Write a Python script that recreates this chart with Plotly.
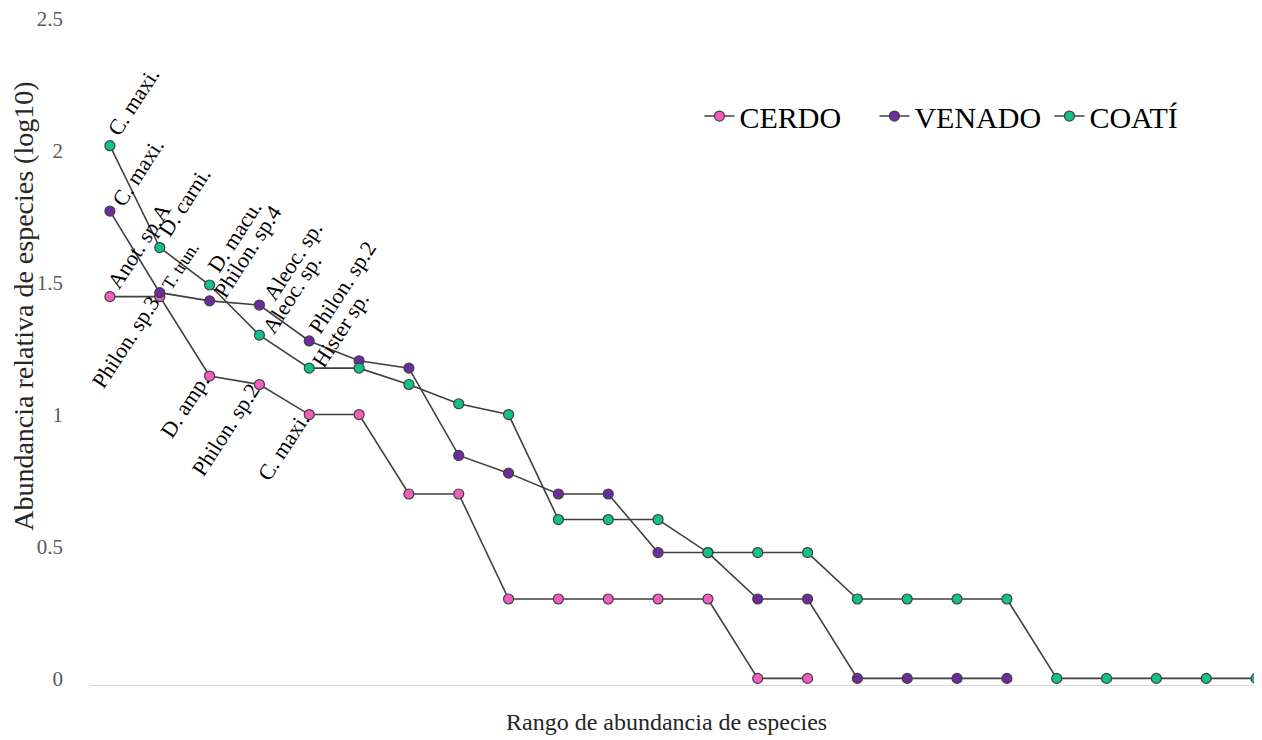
import plotly.graph_objects as go

# ---- data (log10 relative abundance by rank) ----
series_names = ["CERDO", "VENADO", "COATÍ"]
cerdo = [1.447, 1.447, 1.146, 1.114, 1.0, 1.0, 0.699, 0.699, 0.301, 0.301,
         0.301, 0.301, 0.301, 0.0, 0.0]
venado = [1.771, 1.462, 1.431, 1.415, 1.279, 1.204, 1.176, 0.845, 0.778, 0.699,
          0.699, 0.477, 0.477, 0.301, 0.301, 0.0, 0.0, 0.0, 0.0]
coati = [2.019, 1.633, 1.491, 1.301, 1.176, 1.176, 1.114, 1.041, 1.0, 0.602,
         0.602, 0.602, 0.477, 0.477, 0.477, 0.301, 0.301, 0.301, 0.301, 0.0,
         0.0, 0.0, 0.0, 0.0]

# species labels (rank index starting at 1)
coati_labels = ["C. maxi.", "D. carni.", "D. macu.", "Aleoc. sp.", "Hister sp."]
venado_labels = ["C. maxi.", "T. trun.", "Philon. sp.4", "Aleoc. sp.", "Philon. sp.2"]
cerdo_label_up = ["Anot. sp.A"]
cerdo_labels_down = ["Philon. sp.3", "D. amp.", "Philon. sp.2", "C. maxi."]

y_ticks = [0, 0.5, 1, 1.5, 2, 2.5]
y_ticktext = ["0", "0.5", "1", "1.5", "2", "2.5"]

# ---- style ----
colors = ["#F25DBE", "#6B2D9E", "#12C28C"]
FONT = "Liberation Serif, Times New Roman, serif"
coati_label_shift = [(-10, 3), (-10, 4), (-10, 5), (-5, -5), (-5, -6)]
venado_label_shift = [(-6, -2), (-5, -3), (-4, -4), (-4, -2), (-9, 0)]

fig = go.Figure()
for name, vals, col in zip(series_names, [cerdo, venado, coati], colors):
    fig.add_trace(go.Scatter(
        x=list(range(1, len(vals) + 1)), y=vals, name=name,
        mode="lines+markers",
        line=dict(color="#404040", width=1.6),
        marker=dict(color=col, size=10, line=dict(color="#404040", width=1.2)),
    ))

ANG = -57
annotations = []

def up_label(xi, yv, text, size=22, dx=-9, dy=-1):
    annotations.append(dict(x=xi, y=yv, xref="x", yref="y", text=text,
                            textangle=ANG, showarrow=False, xanchor="left",
                            yanchor="bottom", xshift=dx, yshift=dy,
                            font=dict(family=FONT, size=size, color="#000000")))

def down_label(xi, yv, text, size=22):
    annotations.append(dict(x=xi, y=yv, xref="x", yref="y", text=text,
                            textangle=ANG, showarrow=False, xanchor="right",
                            yanchor="top", xshift=8, yshift=9,
                            font=dict(family=FONT, size=size, color="#000000")))

for i, t in enumerate(coati_labels):
    dx, dy = coati_label_shift[i]
    up_label(i + 1, coati[i], t, dx=dx, dy=dy)
for i, t in enumerate(venado_labels):
    dx, dy = venado_label_shift[i]
    up_label(i + 1, venado[i], t, size=18 if t == "T. trun." else 22, dx=dx, dy=dy)
up_label(1, cerdo[0], cerdo_label_up[0], dx=-10, dy=1)
for i, t in enumerate(cerdo_labels_down):
    down_label(i + 2, cerdo[i + 1], t)

# axis titles
annotations.append(dict(x=0.4923, y=-0.056, xref="paper", yref="paper",
                        text="Rango de abundancia de especies", showarrow=False,
                        xanchor="center", yanchor="middle",
                        font=dict(family=FONT, size=24, color="#262626")))
annotations.append(dict(x=-0.0563, y=0.567, xref="paper", yref="paper",
                        text="Abundancia relativa de especies (log10)",
                        textangle=-90, showarrow=False,
                        xanchor="center", yanchor="middle",
                        font=dict(family=FONT, size=28, color="#262626")))

fig.update_layout(
    width=1254, height=732,
    margin=dict(l=82, r=0, t=10, b=55),
    paper_bgcolor="white", plot_bgcolor="white",
    font=dict(family=FONT, color="#000000"),
    showlegend=True,
    legend=dict(orientation="h", x=0.52, xanchor="left", y=0.853, yanchor="middle",
                font=dict(family=FONT, size=30, color="#000000"),
                bgcolor="rgba(0,0,0,0)", entrywidth=130, entrywidthmode="pixels",
                tracegroupgap=0),
    xaxis=dict(range=[0.6, 24.12], showgrid=False, zeroline=False,
               showticklabels=False, ticks="", showline=True, automargin=False,
               linecolor="#D9D9D9", linewidth=1.2),
    yaxis=dict(range=[-0.025, 2.503], showgrid=False, zeroline=False,
               tickvals=y_ticks, ticktext=y_ticktext, ticks="", automargin=False,
               tickfont=dict(family=FONT, size=21, color="#595959"),
               ticklabelstandoff=26, ticklabeloverflow="allow", showline=False),
    annotations=annotations,
)

fig.write_html("out.html")
